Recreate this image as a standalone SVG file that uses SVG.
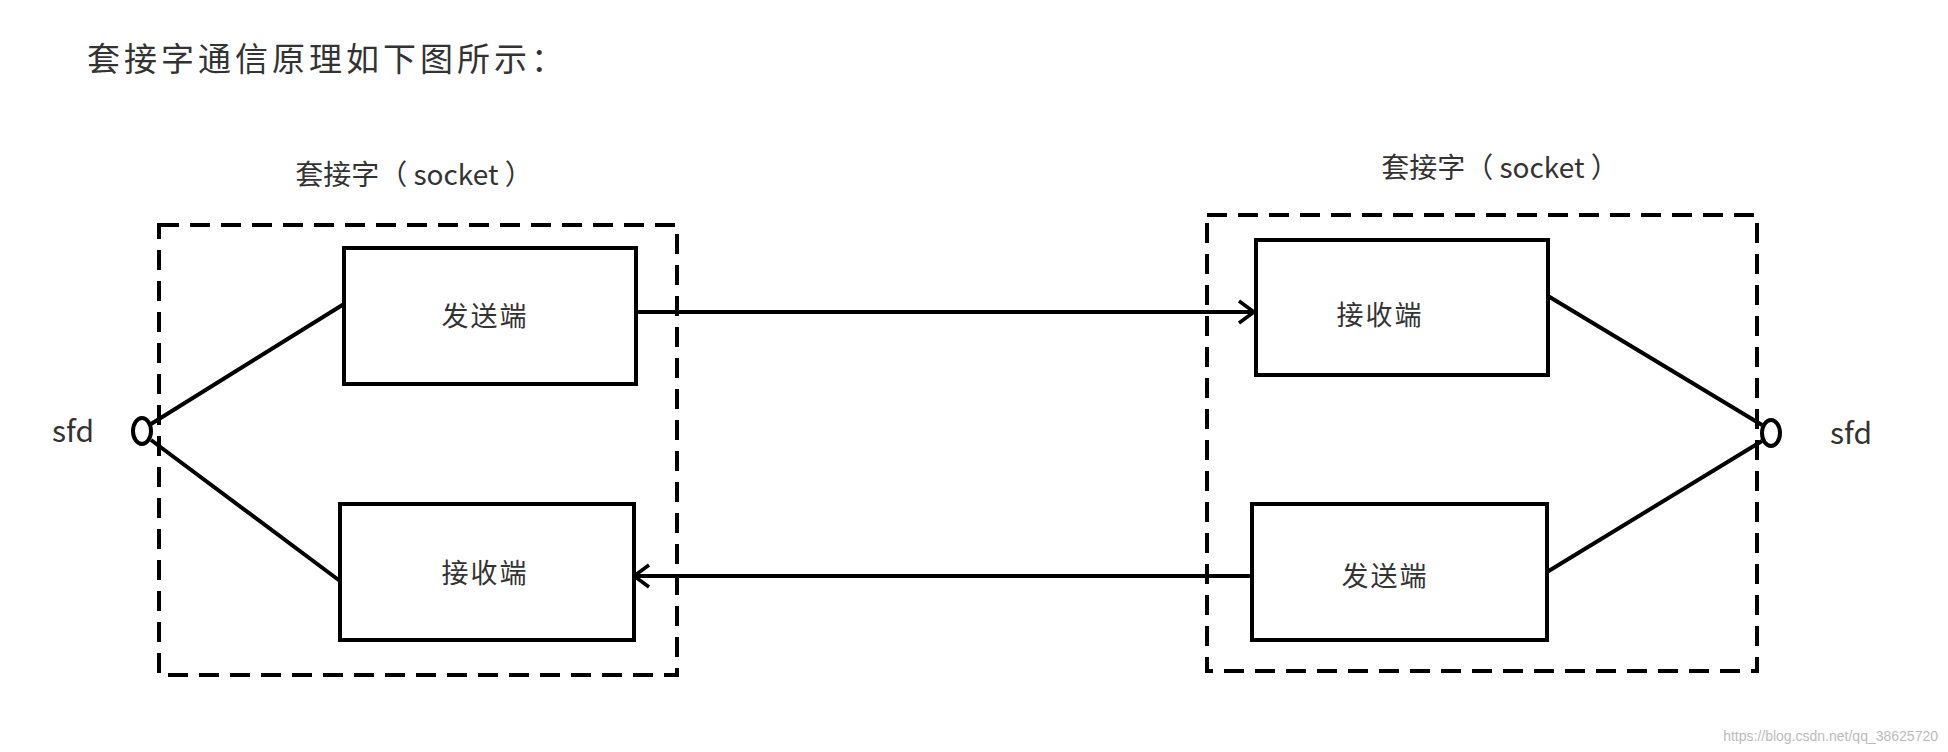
<svg xmlns="http://www.w3.org/2000/svg" width="1948" height="752" viewBox="0 0 1948 752">
<style>
.t{font-family:"Noto Sans CJK SC","Liberation Sans",sans-serif;fill:#333}
.box{fill:#fff;stroke:#000;stroke-width:4}
.dash{fill:none;stroke:#000;stroke-width:4;stroke-dasharray:20 11}
.ln{fill:none;stroke:#000;stroke-width:4}
.lbl{font-size:27px;letter-spacing:2px}
</style>
<defs><marker id="a" markerWidth="18" markerHeight="26" refX="17" refY="13" orient="auto" markerUnits="userSpaceOnUse"><path d="M2,2 L17,13 L2,24" fill="none" stroke="#000" stroke-width="3.5"/></marker></defs>
<rect width="1948" height="752" fill="#fff"/>
<text class="t" x="87" y="71" font-size="33" letter-spacing="4">套接字通信原理如下图所示：</text>
<g id="leftSocket">
<rect class="dash" x="159" y="225" width="518" height="450"/>
<text class="t" x="414" y="185" font-size="28" text-anchor="middle">套接字（ socket ）</text>
</g>
<g id="rightSocket">
<rect class="dash" x="1207" y="215" width="550" height="456"/>
<text class="t" x="1500" y="178" font-size="28" text-anchor="middle">套接字（ socket ）</text>
</g>
<g id="lSend"><rect class="box" x="344" y="248" width="292" height="136"/><text class="t lbl" x="485" y="326" text-anchor="middle">发送端</text></g>
<g id="lRecv"><rect class="box" x="340" y="504" width="294" height="136"/><text class="t lbl" x="485" y="583" text-anchor="middle">接收端</text></g>
<g id="rRecv"><rect class="box" x="1256" y="240" width="292" height="135"/><text class="t lbl" x="1380" y="325" text-anchor="middle">接收端</text></g>
<g id="rSend"><rect class="box" x="1252" y="504" width="295" height="136"/><text class="t lbl" x="1385" y="586" text-anchor="middle">发送端</text></g>
<g id="lSfd"><ellipse class="box" cx="142" cy="431" rx="9" ry="13"/><text class="t" x="52" y="442" font-size="30">sfd</text></g>
<g id="rSfd"><ellipse class="box" cx="1771" cy="433" rx="9" ry="13"/><text class="t" x="1830" y="444" font-size="30">sfd</text></g>
<g id="connectors">
<line class="ln" x1="151" y1="424" x2="344" y2="304"/>
<line class="ln" x1="151" y1="440" x2="340" y2="581"/>
<line class="ln" x1="1548" y1="296" x2="1762" y2="425"/>
<line class="ln" x1="1547" y1="572" x2="1762" y2="441"/>
<line class="ln" x1="636" y1="312" x2="1254" y2="312" marker-end="url(#a)"/>
<line class="ln" x1="1252" y1="576" x2="634" y2="576" marker-end="url(#a)"/>
</g>
<text x="1938" y="741" font-size="14" text-anchor="end" fill="#bbb" font-family="Liberation Sans,sans-serif">https://blog.csdn.net/qq_38625720</text>
</svg>
